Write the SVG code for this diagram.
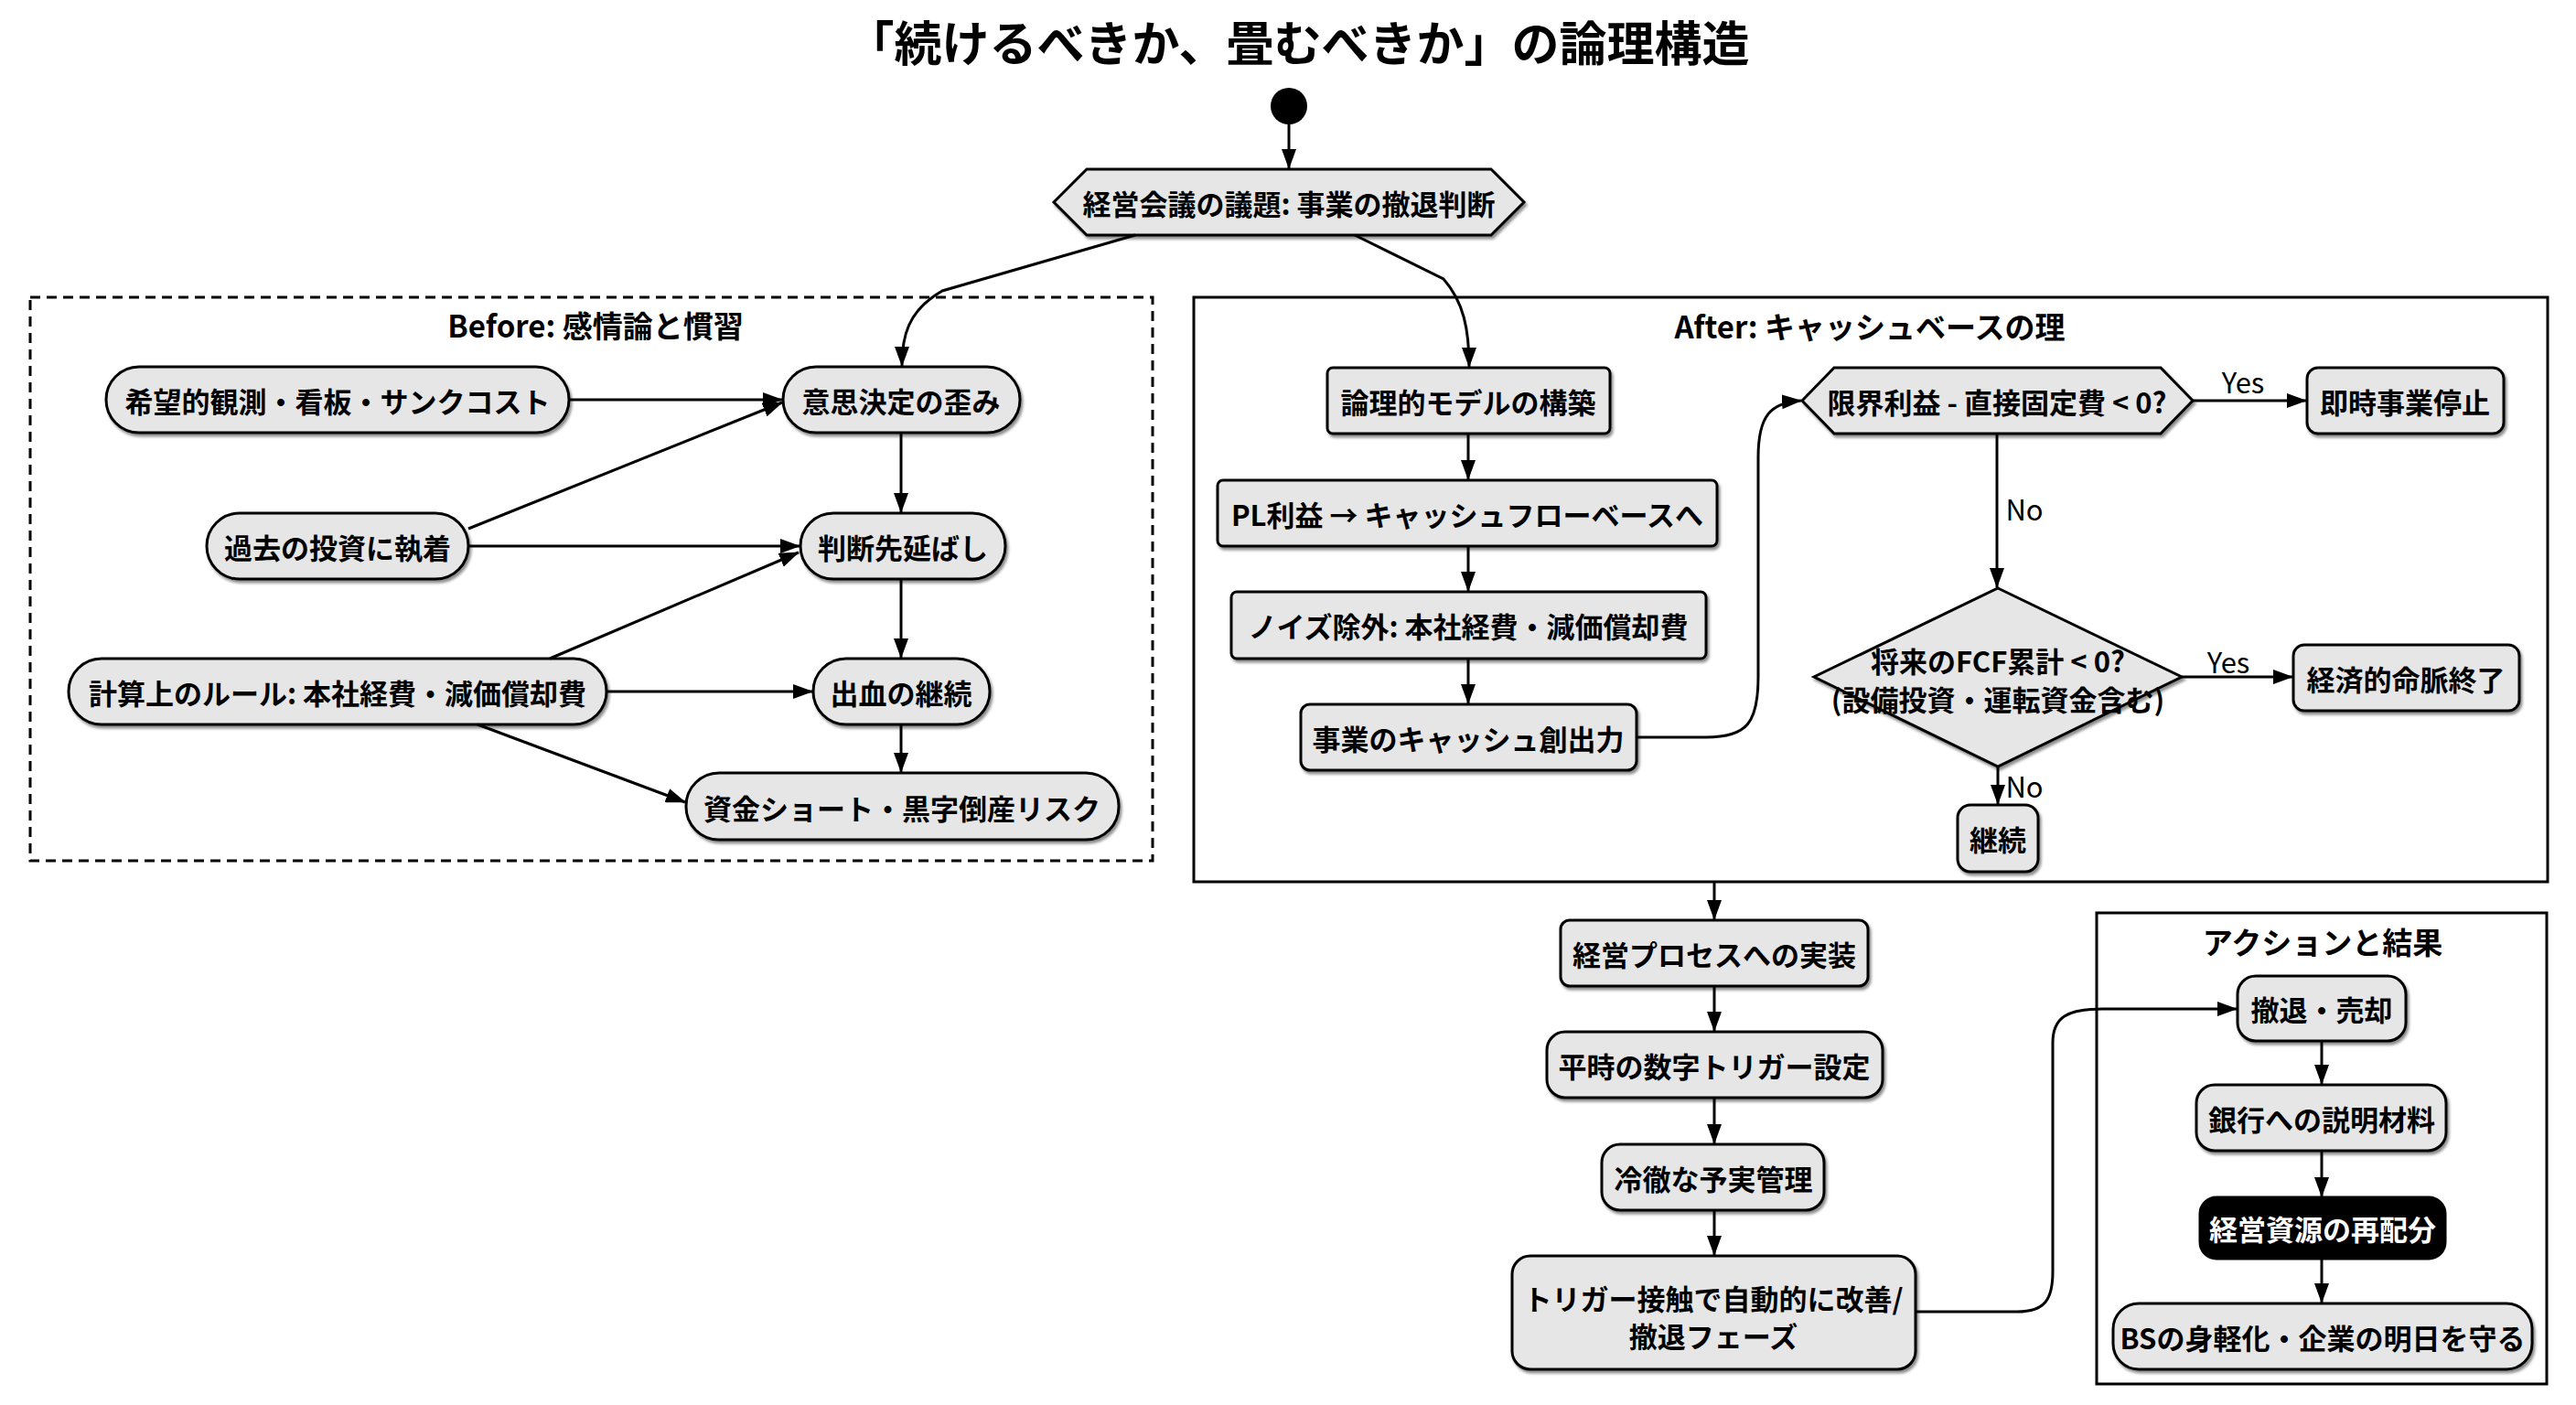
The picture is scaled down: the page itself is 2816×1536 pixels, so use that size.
<svg xmlns="http://www.w3.org/2000/svg" width="2816" height="1536" viewBox="0 0 2816 1536">
<defs>
<marker id="arr" markerUnits="userSpaceOnUse" markerWidth="22" markerHeight="16" viewBox="0 0 22 16" refX="21" refY="8" orient="auto"><path d="M0,0 L22,8 L0,16 z" fill="#000"/></marker>
<filter id="sh" x="-10%" y="-20%" width="120%" height="150%"><feDropShadow dx="2" dy="3" stdDeviation="1.5" flood-color="#000" flood-opacity="0.45"/></filter>
</defs>
<style>
text{font-family:"Noto Sans CJK JP","Noto Sans",sans-serif;text-anchor:middle;dominant-baseline:central;fill:#000}
.n{fill:#e6e6e6;stroke:#000;stroke-width:3;filter:url(#sh)}
.t{font-size:31px;font-weight:700}
.lbl{font-size:31px;font-weight:400}
.g{font-size:33px;font-weight:700}
.e{fill:none;stroke:#000;stroke-width:3;marker-end:url(#arr)}
</style>
<rect width="2816" height="1536" fill="#fff"/>
<text x="1419" y="44" style="font-size:52px;font-weight:700">「続けるべきか、畳むべきか」の論理構造</text>

<g id="groups">
<rect id="before" x="33" y="325" width="1227" height="616" fill="none" stroke="#000" stroke-width="3" stroke-dasharray="11 7"/>
<text class="g" x="651" y="355">Before: 感情論と慣習</text>
<rect id="after" x="1305" y="325" width="1480" height="639" fill="none" stroke="#000" stroke-width="3"/>
<text class="g" x="2044" y="356">After: キャッシュベースの理</text>
<rect id="action" x="2292" y="998" width="492" height="515" fill="none" stroke="#000" stroke-width="3"/>
<text class="g" x="2539" y="1029">アクションと結果</text>
</g>

<g id="start"><circle cx="1409" cy="116" r="20" fill="#000"/></g>
<g id="agenda"><path class="n" d="M1152,221 L1188,185 L1630,185 L1666,221 L1630,257 L1188,257 Z"/><text class="t" x="1409" y="221">経営会議の議題: 事業の撤退判断</text></g>

<g id="hope"><rect class="n" x="116" y="401" width="506" height="72" rx="36"/><text class="t" x="369" y="437">希望的観測・看板・サンクコスト</text></g>
<g id="distort"><rect class="n" x="856" y="401" width="259" height="72" rx="36"/><text class="t" x="985" y="437">意思決定の歪み</text></g>
<g id="past"><rect class="n" x="226" y="561" width="286" height="72" rx="36"/><text class="t" x="369" y="597">過去の投資に執着</text></g>
<g id="delay"><rect class="n" x="875" y="561" width="224" height="72" rx="36"/><text class="t" x="987" y="597">判断先延ばし</text></g>
<g id="rule"><rect class="n" x="75" y="720" width="588" height="72" rx="36"/><text class="t" x="369" y="756">計算上のルール: 本社経費・減価償却費</text></g>
<g id="bleed"><rect class="n" x="889" y="720" width="193" height="72" rx="36"/><text class="t" x="985" y="756">出血の継続</text></g>
<g id="short"><rect class="n" x="750" y="845" width="473" height="73" rx="36"/><text class="t" x="986" y="882">資金ショート・黒字倒産リスク</text></g>

<g id="model"><rect class="n" x="1451" y="402" width="309" height="72" rx="6"/><text class="t" x="1605" y="438">論理的モデルの構築</text></g>
<g id="pl"><rect class="n" x="1331" y="525" width="546" height="72" rx="6"/><text class="t" x="1604" y="561">PL利益 → キャッシュフローベースへ</text></g>
<g id="noise"><rect class="n" x="1346" y="647" width="519" height="73" rx="6"/><text class="t" x="1605" y="683">ノイズ除外: 本社経費・減価償却費</text></g>
<g id="cash"><rect class="n" x="1422" y="770" width="367" height="72" rx="10"/><text class="t" x="1605" y="806">事業のキャッシュ創出力</text></g>
<g id="margin"><path class="n" d="M1970,438 L2005,402 L2362,402 L2397,438 L2362,474 L2005,474 Z"/><text class="t" x="2183" y="438">限界利益 - 直接固定費 &lt; 0?</text></g>
<g id="stop"><rect class="n" x="2522" y="402" width="215" height="72" rx="12"/><text class="t" x="2629" y="438">即時事業停止</text></g>
<g id="fcf"><path class="n" d="M2184,643 L2385,740 L2184,838 L1983,740 Z"/><text class="t" x="2184" y="721">将来のFCF累計 &lt; 0?</text><text class="t" x="2184" y="763">(設備投資・運転資金含む)</text></g>
<g id="end"><rect class="n" x="2507" y="705" width="247" height="72" rx="12"/><text class="t" x="2630" y="741">経済的命脈終了</text></g>
<g id="cont"><rect class="n" x="2140" y="880" width="88" height="73" rx="14"/><text class="t" x="2184" y="916">継続</text></g>

<g id="impl"><rect class="n" x="1706" y="1006" width="336" height="72" rx="10"/><text class="t" x="1874" y="1042">経営プロセスへの実装</text></g>
<g id="trig"><rect class="n" x="1691" y="1128" width="367" height="72" rx="20"/><text class="t" x="1874" y="1164">平時の数字トリガー設定</text></g>
<g id="budget"><rect class="n" x="1751" y="1251" width="243" height="72" rx="20"/><text class="t" x="1873" y="1287">冷徹な予実管理</text></g>
<g id="phase"><rect class="n" x="1653" y="1373" width="441" height="124" rx="20"/><text class="t" x="1873" y="1418">トリガー接触で自動的に改善/</text><text class="t" x="1873" y="1459">撤退フェーズ</text></g>

<g id="exit"><rect class="n" x="2446" y="1067" width="184" height="71" rx="20"/><text class="t" x="2538" y="1102">撤退・売却</text></g>
<g id="bank"><rect class="n" x="2401" y="1186" width="273" height="72" rx="20"/><text class="t" x="2538" y="1222">銀行への説明材料</text></g>
<g id="realloc"><rect x="2405" y="1309" width="268" height="67" rx="18" fill="#000" stroke="#000" stroke-width="3"/><text class="t" x="2539" y="1342" style="fill:#fff">経営資源の再配分</text></g>
<g id="bs"><rect class="n" x="2310" y="1425" width="458" height="72" rx="28"/><text class="t" x="2539" y="1461">BSの身軽化・企業の明日を守る</text></g>

<g id="connectors">
<path class="e" d="M1409,136 L1409,184"/>
<path class="e" d="M1241,257 L1030,318 C992,340 986,368 986,400"/>
<path class="e" d="M1481,257 L1578,305 C1600,330 1606,360 1606,401"/>
<path class="e" d="M622,437 L855,437"/>
<path class="e" d="M512,578 L855,440"/>
<path class="e" d="M512,597 L874,597"/>
<path class="e" d="M601,720 L873,604"/>
<path class="e" d="M663,756 L888,756"/>
<path class="e" d="M522,792 L749,877"/>
<path class="e" d="M985,473 L985,560"/>
<path class="e" d="M985,633 L985,719"/>
<path class="e" d="M985,792 L985,844"/>
<path class="e" d="M1605,474 L1605,524"/>
<path class="e" d="M1605,597 L1605,646"/>
<path class="e" d="M1605,720 L1605,769"/>
<path class="e" d="M1789,806 L1865,806 C1910,806 1922,790 1922,740 L1922,500 C1922,455 1935,440 1969,438"/>
<path class="e" d="M2397,438 L2521,438"/>
<path class="e" d="M2183,474 L2183,642"/>
<path class="e" d="M2385,740 L2506,740"/>
<path class="e" d="M2184,838 L2184,879"/>
<path class="e" d="M1874,964 L1874,1005"/>
<path class="e" d="M1874,1078 L1874,1127"/>
<path class="e" d="M1874,1200 L1874,1250"/>
<path class="e" d="M1874,1323 L1874,1372"/>
<path class="e" d="M2094,1434 L2205,1434 C2236,1434 2244,1420 2244,1390 L2244,1140 C2244,1112 2260,1103 2298,1103 L2445,1103"/>
<path class="e" d="M2538,1138 L2538,1185"/>
<path class="e" d="M2538,1258 L2538,1308"/>
<path class="e" d="M2538,1376 L2538,1424"/>
<text class="lbl" x="2452" y="416">Yes</text>
<text class="lbl" x="2213" y="555">No</text>
<text class="lbl" x="2436" y="722">Yes</text>
<text class="lbl" x="2213" y="858">No</text>
</g>
</svg>
